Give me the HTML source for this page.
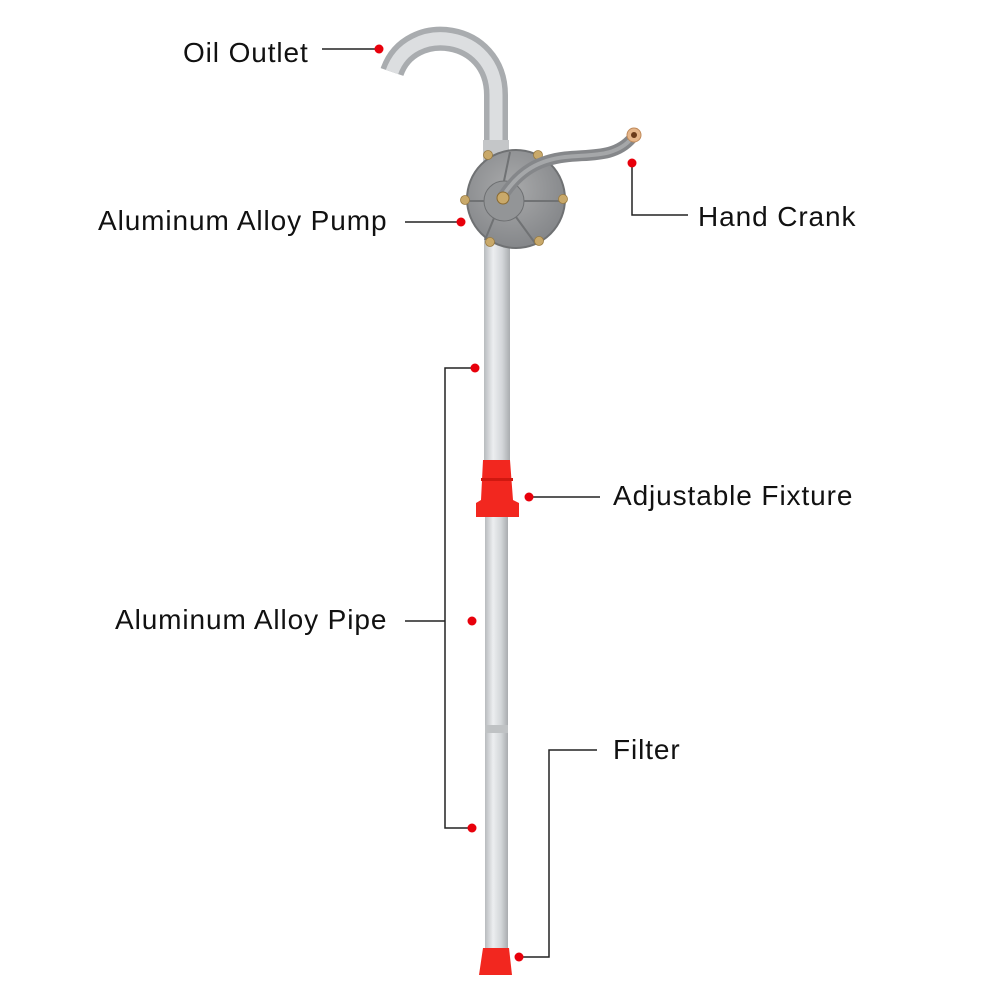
<!DOCTYPE html>
<html><head><style>
body{margin:0;background:#fff}
svg{display:block}
text{font-family:"Liberation Sans",sans-serif;font-size:28px;letter-spacing:0.9px;fill:#111}
</style></head><body>
<svg width="1000" height="1000" viewBox="0 0 1000 1000">
<defs>
<linearGradient id="pg" x1="0" x2="1" y1="0" y2="0">
<stop offset="0" stop-color="#b8bbbe"/><stop offset="0.35" stop-color="#eceef0"/><stop offset="0.7" stop-color="#d3d6d9"/><stop offset="1" stop-color="#a9acaf"/></linearGradient>
<radialGradient id="cg" cx="0.45" cy="0.4" r="0.6"><stop offset="0" stop-color="#a9aaab"/><stop offset="1" stop-color="#85878a"/></radialGradient>
</defs>
<path d="M496 165 L496 95 C496 30 410 20 392 72" fill="none" stroke="#a9acaf" stroke-width="24"/>
<path d="M496 165 L496 95 C496 30 410 20 392 72" fill="none" stroke="#dcdee0" stroke-width="13"/>
<rect x="483" y="140" width="26" height="30" fill="#c4c6c8"/>
<rect x="484" y="235" width="26" height="230" fill="url(#pg)"/>
<rect x="485" y="517" width="23" height="440" fill="url(#pg)"/>
<rect x="485" y="725" width="23" height="8" fill="#bfc2c4"/>
<circle cx="516" cy="199" r="49" fill="url(#cg)" stroke="#6f7173" stroke-width="2"/>
<circle cx="504" cy="201" r="20" fill="#939597" stroke="#6e7072"/>
<g stroke="#707274" stroke-width="2"><line x1="504" y1="181" x2="510" y2="152"/><line x1="484" y1="201" x2="468" y2="201"/><line x1="524" y1="201" x2="565" y2="201"/><line x1="494" y1="218" x2="485" y2="240"/><line x1="516" y1="217" x2="535" y2="243"/></g>
<g fill="#c9a96a" stroke="#9a7b40" stroke-width="0.8"><circle cx="488" cy="155" r="4.5"/><circle cx="538" cy="155" r="4.5"/><circle cx="465" cy="200" r="4.5"/><circle cx="563" cy="199" r="4.5"/><circle cx="490" cy="242" r="4.5"/><circle cx="539" cy="241" r="4.5"/></g>
<path d="M503 196 C520 170 540 160 565 157 C590 154 615 158 632 138" fill="none" stroke="#85878a" stroke-width="11" stroke-linecap="round"/>
<path d="M503 196 C520 170 540 160 565 157 C590 154 615 158 632 138" fill="none" stroke="#a5a7a9" stroke-width="4" stroke-linecap="round"/>
<circle cx="503" cy="198" r="6" fill="#c9a96a" stroke="#8a6a30"/>
<circle cx="634" cy="135" r="7" fill="#e6b68a" stroke="#c08a5a"/><circle cx="634" cy="135" r="3" fill="#6b3b1a"/>
<path d="M483 460 L510 460 L513 500 L519 503 L519 517 L476 517 L476 503 L481 500 Z" fill="#f2271f"/>
<rect x="481" y="478" width="32" height="3" fill="#d01810"/>
<path d="M483 948 L509 948 L512 975 L479 975 Z" fill="#f2271f"/>
<g stroke="#222" stroke-width="1.5" fill="none">
<line x1="322" y1="49" x2="377" y2="49"/>
<line x1="405" y1="222" x2="459" y2="222"/>
<polyline points="632,163 632,215 688,215"/>
<polyline points="473,368 445,368 445,828 471,828"/>
<line x1="405" y1="621" x2="445" y2="621"/>
<line x1="531" y1="497" x2="600" y2="497"/>
<polyline points="519,957 549,957 549,750 597,750"/>
</g>
<g fill="#e8000b">
<circle cx="379" cy="49" r="4.5"/><circle cx="461" cy="222" r="4.5"/><circle cx="632" cy="163" r="4.5"/>
<circle cx="475" cy="368" r="4.5"/><circle cx="472" cy="621" r="4.5"/><circle cx="472" cy="828" r="4.5"/>
<circle cx="529" cy="497" r="4.5"/><circle cx="519" cy="957" r="4.5"/>
</g>
<text x="183" y="62">Oil Outlet</text>
<text x="98" y="230">Aluminum Alloy Pump</text>
<text x="698" y="226">Hand Crank</text>
<text x="613" y="505">Adjustable Fixture</text>
<text x="115" y="629">Aluminum Alloy Pipe</text>
<text x="613" y="759">Filter</text>
</svg>
</body></html>
